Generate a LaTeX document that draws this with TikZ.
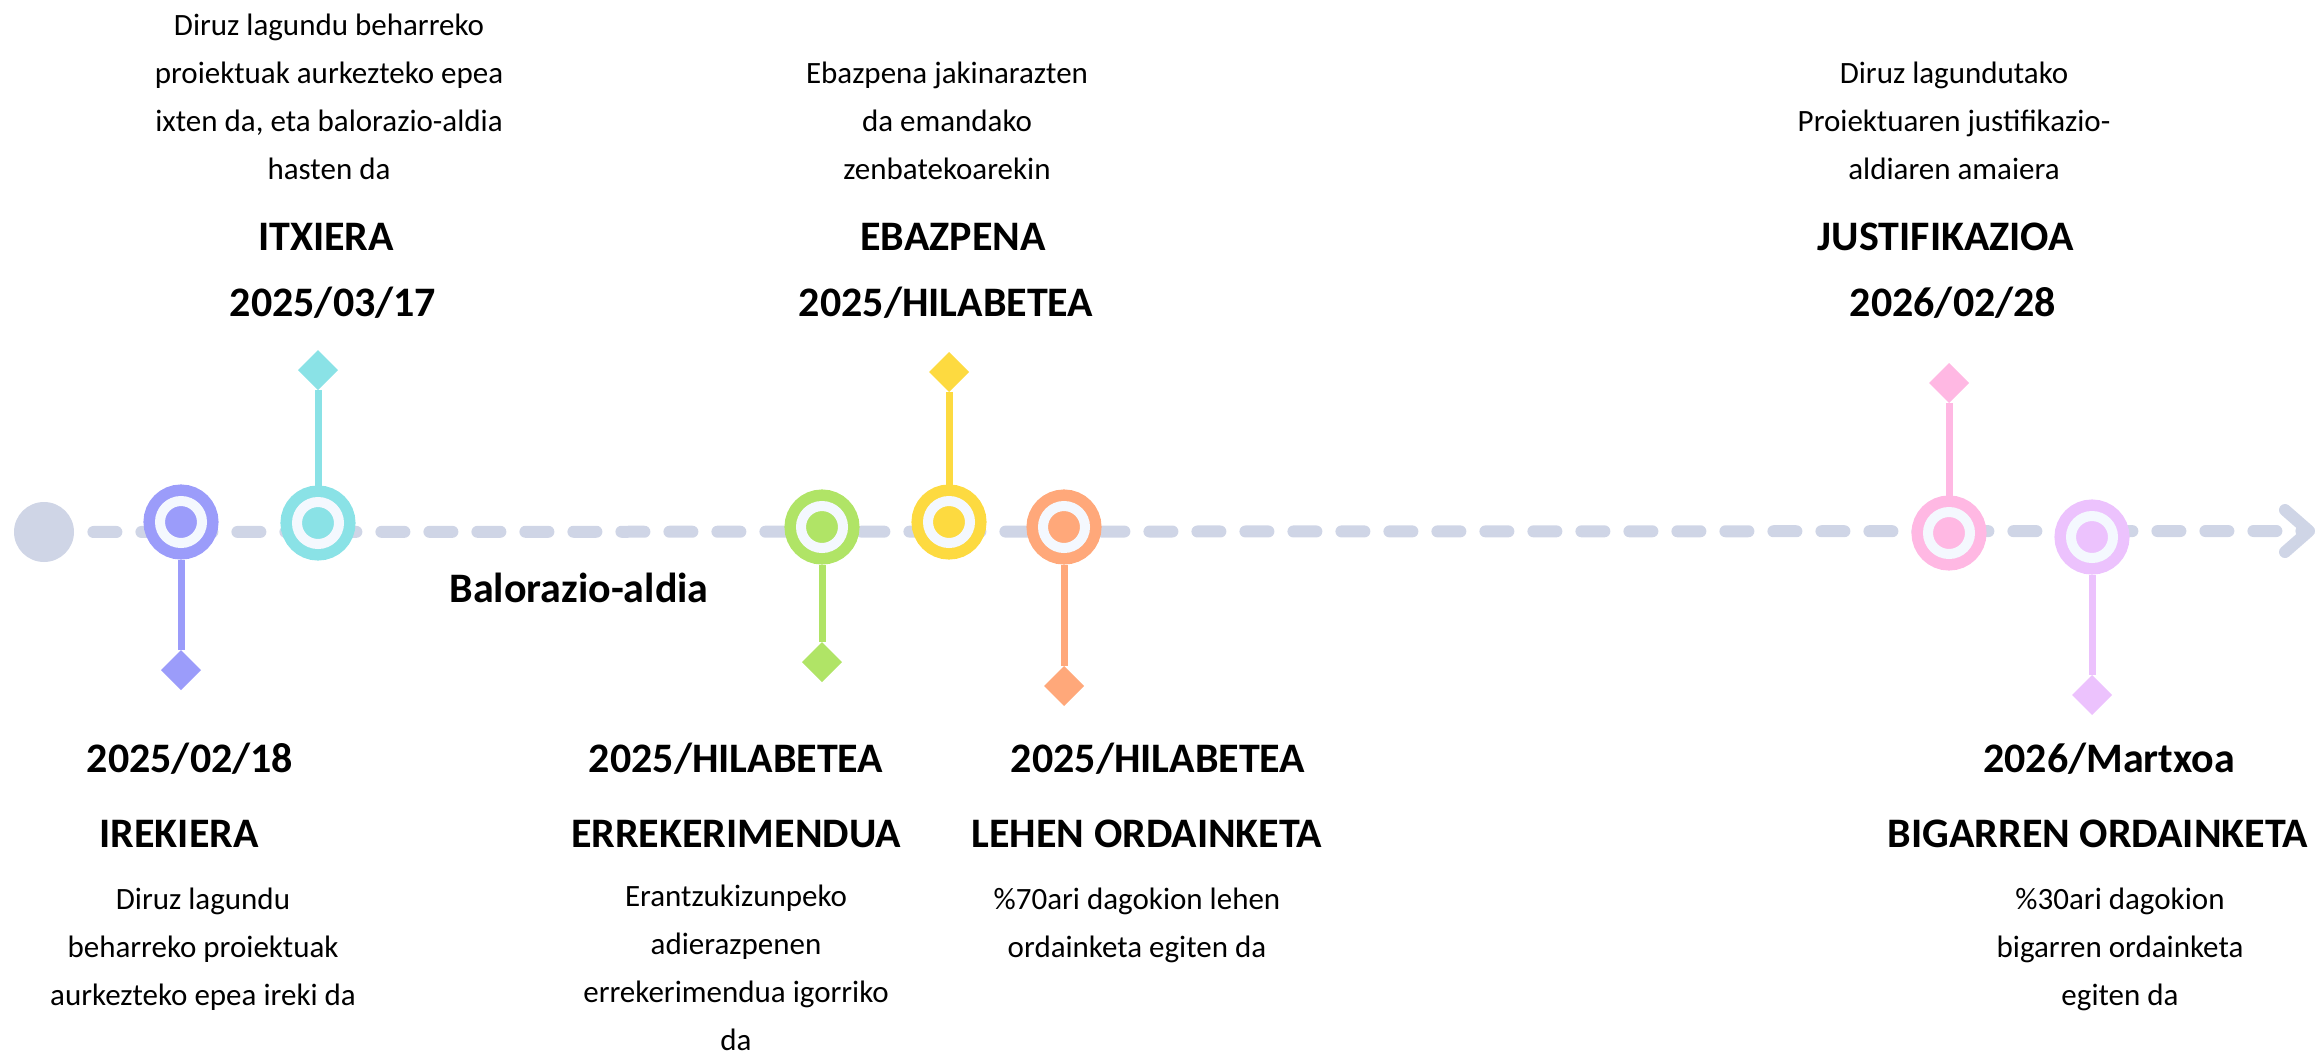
\documentclass[tikz,border=0pt]{standalone}
\usepackage{fontspec}
\setmainfont{Carlito}
\usetikzlibrary{shapes,arrows.meta,positioning}

\definecolor{axisgray}{HTML}{CFD5E6}
\definecolor{ringwhite}{HTML}{F4F8FE}
\definecolor{lavender}{HTML}{9B9CFA}
\definecolor{turquoise}{HTML}{8AE2E6}
\definecolor{lime}{HTML}{B0E466}
\definecolor{sun}{HTML}{FDDA40}
\definecolor{peach}{HTML}{FFA87A}
\definecolor{rose}{HTML}{FFB8E3}
\definecolor{lilac}{HTML}{ECC2FD}

\begin{document}
\begin{tikzpicture}[
    x=0.5pt, y=-0.5pt,
    event/.style={circle, fill=#1, draw=#1, double=ringwhite, double distance=5pt, line width=5.75pt, minimum size=21pt, inner sep=0pt, outer sep=8.25pt},
    marker/.style={diamond, fill=#1, minimum size=20pt, inner sep=0pt, outer sep=0pt},
    stem/.style={draw=#1, line width=3.5pt},
    timeline/.style={draw=axisgray, line width=6pt, line cap=round, dash pattern=on 11.5pt off 12.5pt, -{Straight Barb[length=12pt, width=21pt, round]}},
    note/.style={font=\fontsize{15.5pt}{24pt}\selectfont, align=center, anchor=base},
    heading/.style={font=\bfseries\fontsize{21pt}{25pt}\selectfont, anchor=base}
  ]
    \useasboundingbox (0,0) rectangle (2315,1055);

    % axis
    \node [circle, fill=axisgray, minimum size=30pt, inner sep=0pt] (start) at (44,532) {};
    \coordinate (tip) at (2315,531);
    \draw [timeline, shorten <=9.5pt] (start) -- (tip);

    % events on the axis
    \node [event=lavender] (irekiera) at (181,522) {};
    \node [event=turquoise] (itxiera) at (318,523) {};
    \node [event=lime] (errekerimendua) at (822,527) {};
    \node [event=sun] (ebazpena) at (949,522) {};
    \node [event=peach] (lehen) at (1064,527) {};
    \node [event=rose] (justifikazioa) at (1949,533) {};
    \node [event=lilac] (bigarren) at (2092,537) {};

    \node [marker=lavender] (irekiera-m) at (181,670) {};
    \node [marker=turquoise] (itxiera-m) at (318,370) {};
    \node [marker=lime] (errekerimendua-m) at (822,662) {};
    \node [marker=sun] (ebazpena-m) at (949,372) {};
    \node [marker=peach] (lehen-m) at (1064,686) {};
    \node [marker=rose] (justifikazioa-m) at (1949,383) {};
    \node [marker=lilac] (bigarren-m) at (2092,695) {};

    \draw [stem=lavender] (irekiera) -- (irekiera-m);
    \draw [stem=turquoise] (itxiera) -- (itxiera-m);
    \draw [stem=lime] (errekerimendua) -- (errekerimendua-m);
    \draw [stem=sun] (ebazpena) -- (ebazpena-m);
    \draw [stem=peach] (lehen) -- (lehen-m);
    \draw [stem=rose] (justifikazioa) -- (justifikazioa-m);
    \draw [stem=lilac] (bigarren) -- (bigarren-m);

    % texts above the axis (base = last line)
    \node [note] (itxiera-txt) at (329,179) {Diruz lagundu beharreko\\proiektuak aurkezteko epea\\ixten da, eta balorazio-aldia\\hasten da};
    \node [heading] (itxiera-izena) at (326,250) {ITXIERA};
    \node [heading] (itxiera-data) at (333,316) {2025/03/17};

    \node [note] (ebazpena-txt) at (947,179) {Ebazpena jakinarazten\\da emandako\\zenbatekoarekin};
    \node [heading] (ebazpena-izena) at (953,250) {EBAZPENA};
    \node [heading] (ebazpena-data) at (946,316) {2025/HILABETEA};

    \node [note] (justifikazioa-txt) at (1954,179) {Diruz lagundutako\\Proiektuaren justifikazio-\\aldiaren amaiera};
    \node [heading] (justifikazioa-izena) at (1946,250) {JUSTIFIKAZIOA};
    \node [heading] (justifikazioa-data) at (1953,316) {2026/02/28};

    % texts below the axis
    \node [heading] (balorazioa) at (579,602) {Balorazio-aldia};

    \node [heading] (irekiera-data) at (190,772) {2025/02/18};
    \node [heading] (irekiera-izena) at (179,847) {IREKIERA};
    \node [note] (irekiera-txt) at (203,1005) {Diruz lagundu\\beharreko proiektuak\\aurkezteko epea ireki da};

    \node [heading] (errekerimendua-data) at (736,772) {2025/HILABETEA};
    \node [heading] (errekerimendua-izena) at (736,847) {ERREKERIMENDUA};
    \node [note] (errekerimendua-txt) at (736,1050) {Erantzukizunpeko\\adierazpenen\\errekerimendua igorriko\\da};

    \node [heading] (lehen-data) at (1158,772) {2025/HILABETEA};
    \node [heading] (lehen-izena) at (1147,847) {LEHEN ORDAINKETA};
    \node [note] (lehen-txt) at (1137,957) {\%70ari dagokion lehen\\ordainketa egiten da};

    \node [heading] (bigarren-data) at (2109,772) {2026/Martxoa};
    \node [heading] (bigarren-izena) at (2098,847) {BIGARREN ORDAINKETA};
    \node [note] (bigarren-txt) at (2120,1005) {\%30ari dagokion\\bigarren ordainketa\\egiten da};
\end{tikzpicture}
\end{document}
